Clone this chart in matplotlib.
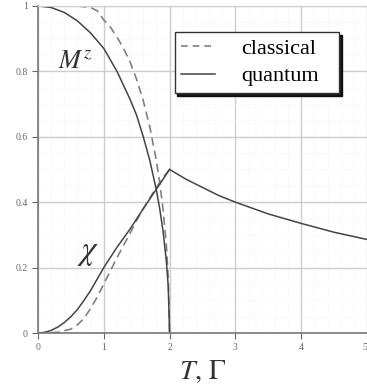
import numpy as np
import matplotlib
matplotlib.use('Agg')
import matplotlib.pyplot as plt

# magnetisation M^z
x_mq = [0, 0.2, 0.4, 0.6, 0.8, 1.0, 1.2, 1.4, 1.5, 1.6, 1.7, 1.8, 1.85, 1.9, 1.95, 1.98, 2.0]
m_quantum = [1.0, 0.995, 0.98, 0.954, 0.917, 0.87, 0.8, 0.714, 0.665, 0.6, 0.527, 0.436, 0.38, 0.312, 0.222, 0.14, 0.0]
x_mc = [0, 0.6, 0.8, 0.9, 1.0, 1.1, 1.2, 1.3, 1.4, 1.5, 1.6, 1.7, 1.8, 1.85, 1.9, 1.95, 1.98, 2.0]
m_classical = [1.0, 1.0, 0.995, 0.985, 0.957, 0.935, 0.905, 0.87, 0.828, 0.775, 0.71, 0.63, 0.525, 0.46, 0.38, 0.27, 0.17, 0.0]

# susceptibility chi
x_cq = [0, 0.1, 0.2, 0.3, 0.4, 0.5, 0.6, 0.7, 0.8, 0.9, 1.0, 1.2, 1.4, 1.6, 1.8, 1.9, 2.0]
chi_quantum = [0.0, 0.002, 0.008, 0.018, 0.032, 0.05, 0.072, 0.1, 0.13, 0.165, 0.2, 0.262, 0.318, 0.38, 0.44, 0.47, 0.5]
x_cc = [0, 0.3, 0.5, 0.6, 0.7, 0.8, 0.9, 1.0, 1.1, 1.2, 1.3, 1.4, 1.5, 1.6, 1.7, 1.8, 1.9, 2.0]
chi_classical = [0.0, 0.002, 0.012, 0.025, 0.045, 0.075, 0.11, 0.15, 0.19, 0.23, 0.268, 0.305, 0.345, 0.38, 0.413, 0.445, 0.475, 0.5]
x_tail = [2.0, 2.25, 2.5, 2.75, 3.0, 3.5, 4.0, 4.5, 5.0]
chi_tail = [0.5, 0.47, 0.445, 0.42, 0.4, 0.364, 0.335, 0.308, 0.286]

line_col = '#444444'
dash_col = '#808080'
plt.rcParams['font.family'] = ['Liberation Serif', 'DejaVu Serif']
plt.rcParams['mathtext.fontset'] = 'stix'

fig = plt.figure(figsize=(3.67, 3.92), dpi=100)
ax = fig.add_axes([0.1035, 0.1505, 0.8965, 0.8345])

ax.plot(x_mc, m_classical, '--', color=dash_col, lw=1.2, dashes=(5, 3))
ax.plot(x_cc, chi_classical, '--', color=dash_col, lw=1.2, dashes=(5, 3))
ax.plot(x_mq, m_quantum, '-', color=line_col, lw=1.1)
ax.plot(x_cq, chi_quantum, '-', color=line_col, lw=1.1)
ax.plot(x_tail, chi_tail, '-', color=line_col, lw=1.1)

ax.set_xlim(0, 5)
ax.set_ylim(0, 1)
ax.set_xticks(range(6))
ax.set_xticklabels(['0', '1', '2', '3', '4', '5'])
ax.get_xticklabels()[-1].set_ha('right')
ax.set_yticks([0, 0.2, 0.4, 0.6, 0.8, 1])
ax.set_yticklabels(['0', '0.2', '0.4', '0.6', '0.8', '1'])
ax.set_xticks(np.arange(0, 5.01, 0.2), minor=True)
ax.set_yticks(np.arange(0, 1.01, 0.05), minor=True)
ax.tick_params(which='major', labelsize=7, colors='#666666', length=4, width=0.8)
ax.tick_params(which='minor', length=0)
ax.grid(which='major', color='#cccccc', lw=1.0)
ax.grid(which='minor', color='#eeeeee', lw=0.6, ls=':')
ax.set_axisbelow(True)

for side in ['left', 'bottom']:
    ax.spines[side].set_color('#777777')
    ax.spines[side].set_linewidth(1.2)
ax.spines['top'].set_color('#cccccc')
ax.spines['right'].set_visible(False)

ax.text(0.3, 0.81, r'$M^{z}$', fontsize=19, color='#333333')
ax.text(0.6, 0.225, r'$\chi$', fontsize=24, color='#333333')
ax.set_xlabel(r'$T,\,\Gamma$', fontsize=20, color='#333333', labelpad=4)

# legend box with shadow
leg_lines = [plt.Line2D([], [], color=dash_col, ls='--', lw=1.2, dashes=(4, 3)),
             plt.Line2D([], [], color=line_col, ls='-', lw=1.1)]
leg = ax.legend(leg_lines, ['classical', 'quantum'], loc='upper left',
                bbox_to_anchor=(0.415, 0.72, 0.5, 0.2), mode='expand',
                borderaxespad=0, fontsize=16, fancybox=False,
                shadow={'color': 'black', 'alpha': 0.9}, framealpha=1,
                edgecolor='#333333', handlelength=1.5, handletextpad=1.2,
                borderpad=0.3, labelspacing=0.3)
leg.get_frame().set_linewidth(1.0)

fig.savefig('out.png', dpi=100)
